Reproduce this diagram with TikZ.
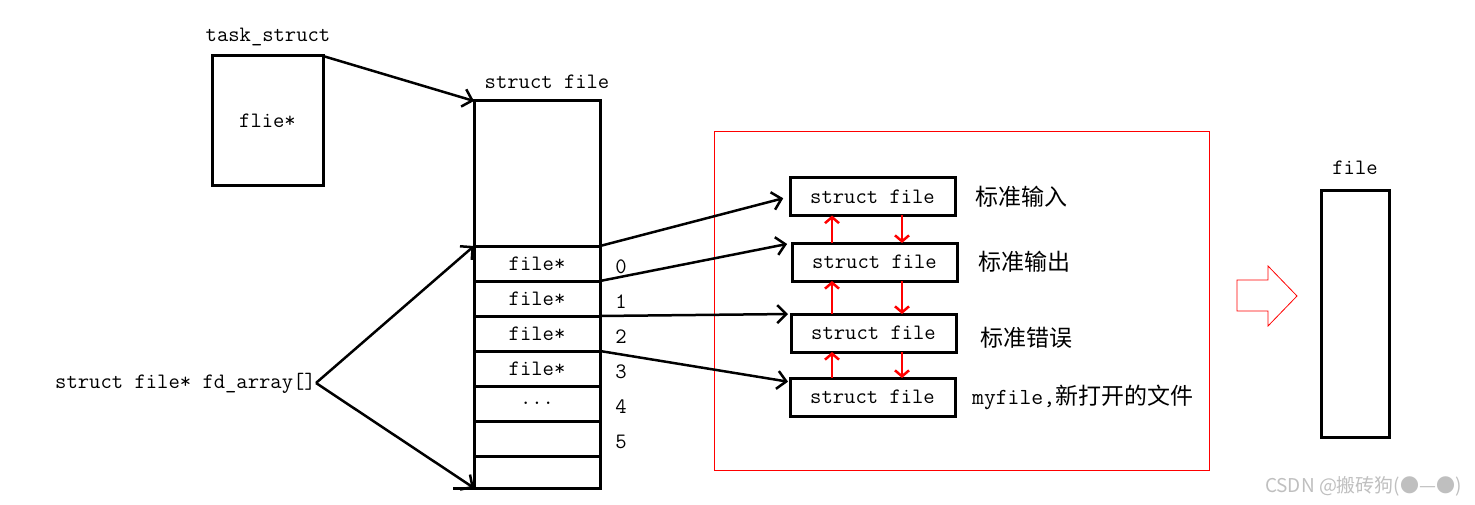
\documentclass[tikz,border=0pt]{standalone}
\usepackage{fontspec}
\newfontfamily\cjk{Noto Sans CJK SC}
\usetikzlibrary{positioning,arrows.meta}
\newcommand{\celldots}{...}
\tikzset{
 blk/.style={draw, line width=3pt, inner sep=0pt, outer sep=0pt},
 cell/.style={blk, minimum width=126pt, minimum height=35pt, font=\ttfamily\fontsize{22}{26}\selectfont},
 sfbox/.style={blk, minimum width=165pt, minimum height=38pt, font=\ttfamily\fontsize{22}{26}\selectfont},
 lbl/.style={inner sep=0pt, font=\ttfamily\fontsize{22}{26}\selectfont},
 cn/.style={inner sep=0pt, anchor=west, font=\cjk\fontsize{23}{27}\selectfont},
 ptr/.style={line width=2.5pt, -{Straight Barb[length=9pt,width=18pt]}},
 link/.style={red, line width=2.5pt, -{Straight Barb[length=6pt,width=14pt]}},
}
\begin{document}
\begin{tikzpicture}[x=1pt,y=-1pt]
 \useasboundingbox (0,0) rectangle (1475,505);
 \node[blk, minimum width=111pt, minimum height=130pt, anchor=north west, font=\ttfamily\fontsize{22}{26}\selectfont] (task) at (212,56) {flie*};
 \node[lbl] (tasklbl) at (268,37) {task\_struct};
 \node[blk, minimum width=126pt, minimum height=145pt, anchor=north west] (top) at (474,101) {};
 \node[lbl] (arrlbl) at (547,82) {struct file};
 \node[cell, below=0pt of top] (c0) {file*};
 \foreach \i/\t [count=\j from 0] in {1/file*,2/file*,3/file*,4/\celldots,5/{}}
  \node[cell, below=0pt of c\j] (c\i) {\t};
 \node[cell, minimum height=32pt, below=0pt of c5] (c6) {};
 \foreach \i in {0,1,2,3,4,5}
  \node[lbl] (n\i) at ([xshift=21pt,yshift=-3pt]c\i.east) {\i};
 \draw[line width=3pt] (c6.south west) -- ++(-21,0);
 \node[lbl, anchor=east] (fd) at (316,383) {struct file* fd\_array[]};
 \draw[ptr] (task.north east) -- (top.north west);
 \draw[ptr] (fd.east) -- (top.south west);
 \draw[ptr] (fd.east) -- (c6.south west);
 \node[draw=red, line width=0.8pt, minimum width=495pt, minimum height=339pt, anchor=north west] (grp) at (714,131) {};
 \node[sfbox] (sf1) at (872.5,196.5) {struct file};
 \node[sfbox] (sf2) at (874.5,262) {struct file};
 \node[sfbox] (sf3) at (873.5,333) {struct file};
 \node[sfbox] (sf4) at (872.5,397) {struct file};
 \node[cn, right=20pt of sf1] (l1) {标准输入};
 \node[cn, right=21pt of sf2] (l2) {标准输出};
 \node[cn, right=24pt of sf3, yshift=-5pt] (l3) {标准错误};
 \node[cn, right=17pt of sf4] (l4) {{\ttfamily myfile,}新打开的文件};
 \draw[ptr, shorten >=7pt] (c0.north east) -- (sf1.west);
 \draw[ptr, shorten >=5pt] (c0.south east) -- (sf2.north west);
 \draw[ptr, shorten >=3pt] (c1.south east) -- (sf3.north west);
 \draw[ptr, shorten >=2pt] (c2.south east) -- ([yshift=-4pt]sf4.north west);
 \coordinate (up) at (832,0);
 \coordinate (dn) at (902,0);
 \draw[link] (sf2.north -| up) -- (sf1.south -| up);
 \draw[link] (sf3.north -| up) -- (sf2.south -| up);
 \draw[link] (sf4.north -| up) -- (sf3.south -| up);
 \draw[link] (sf1.south -| dn) -- (sf2.north -| dn);
 \draw[link] (sf2.south -| dn) -- (sf3.north -| dn);
 \draw[link] (sf3.south -| dn) -- (sf4.north -| dn);
 \draw[red, line width=0.8pt] (1237,280) -- (1268,280) -- (1268,266) -- (1297,296) -- (1268,326) -- (1268,311) -- (1237,311) -- cycle;
 \node[blk, minimum width=68pt, minimum height=246pt, anchor=north west] (fbox) at (1321,191) {};
 \node[lbl] (flbl) at (1355,168) {file};
 \node[anchor=east, inner sep=0pt, text=gray!50, font=\cjk\fontsize{19}{22}\selectfont] (wm) at (1462,486) {CSDN @搬砖狗(●—●)};
\end{tikzpicture}
\end{document}
